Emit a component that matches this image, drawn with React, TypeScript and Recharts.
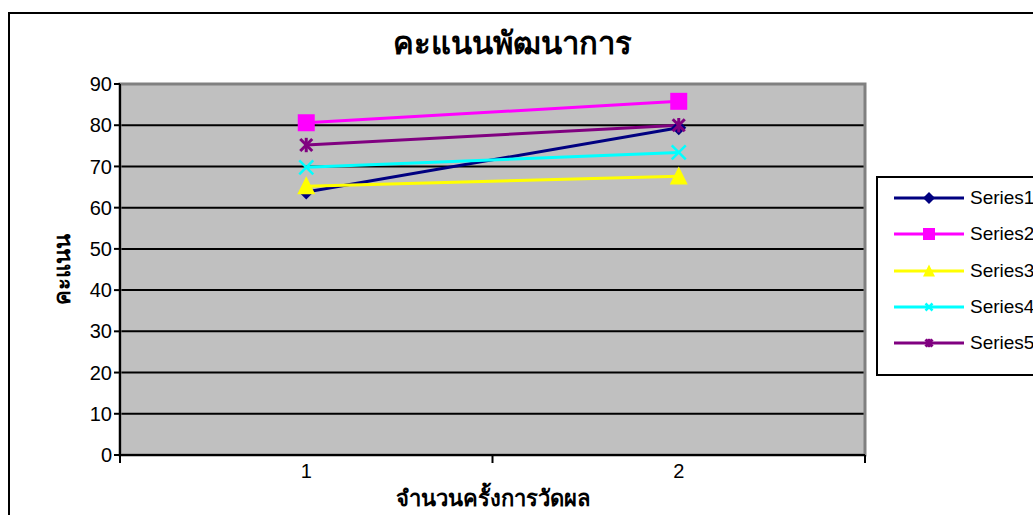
import React from 'react';
import {
  LineChart,
  Line,
  XAxis,
  YAxis,
  CartesianGrid,
  Legend,
  ReferenceArea,
  Label
} from 'recharts';

const categories = [1, 2];
const series1 = [63.8, 79.4];
const series2 = [80.6, 85.8];
const series3 = [65.2, 67.6];
const series4 = [69.8, 73.4];
const series5 = [75.2, 80.0];
const yTicks = [0, 10, 20, 30, 40, 50, 60, 70, 80, 90];

const data = categories.map((c, i) => ({
  x: c,
  s1: series1[i],
  s2: series2[i],
  s3: series3[i],
  s4: series4[i],
  s5: series5[i]
}));

type Shape = 'diamond' | 'square' | 'triangle' | 'cross' | 'star';

const seriesDefs: { key: string; name: string; color: string; shape: Shape }[] = [
  { key: 's1', name: 'Series1', color: '#000080', shape: 'diamond' },
  { key: 's2', name: 'Series2', color: '#FF00FF', shape: 'square' },
  { key: 's3', name: 'Series3', color: '#FFFF00', shape: 'triangle' },
  { key: 's4', name: 'Series4', color: '#00FFFF', shape: 'cross' },
  { key: 's5', name: 'Series5', color: '#800080', shape: 'star' }
];

const thaiFont = 'Noto Sans, DejaVu Sans, sans-serif';
const latinFont = 'Liberation Sans, Arial, sans-serif';

function Marker({ cx, cy, color, shape, s }: { cx: number; cy: number; color: string; shape: Shape; s: number }) {
  if (shape === 'diamond') {
    return <polygon points={`${cx},${cy - s} ${cx + s},${cy} ${cx},${cy + s} ${cx - s},${cy}`} fill={color} />;
  }
  if (shape === 'square') {
    return <rect x={cx - s} y={cy - s} width={s * 2} height={s * 2} fill={color} />;
  }
  if (shape === 'triangle') {
    return <polygon points={`${cx},${cy - s * 1.1} ${cx + s},${cy + s * 0.9} ${cx - s},${cy + s * 0.9}`} fill={color} />;
  }
  if (shape === 'cross') {
    return (
      <g stroke={color} strokeWidth={2.5}>
        <line x1={cx - s} y1={cy - s} x2={cx + s} y2={cy + s} />
        <line x1={cx - s} y1={cy + s} x2={cx + s} y2={cy - s} />
      </g>
    );
  }
  return (
    <g stroke={color} strokeWidth={3}>
      <line x1={cx - s} y1={cy - s} x2={cx + s} y2={cy + s} />
      <line x1={cx - s} y1={cy + s} x2={cx + s} y2={cy - s} />
      <line x1={cx} y1={cy - s * 1.2} x2={cx} y2={cy + s * 1.2} />
    </g>
  );
}

const markerSize: Record<Shape, number> = { diamond: 7.5, square: 8.5, triangle: 9, cross: 7, star: 6 };

function makeDot(color: string, shape: Shape) {
  return (props: any) => {
    const { cx, cy, index } = props;
    if (cx == null || cy == null) return <g key={index} />;
    return (
      <g key={index}>
        <Marker cx={cx} cy={cy} color={color} shape={shape} s={markerSize[shape]} />
      </g>
    );
  };
}

function XTick(props: any) {
  const { x, y, payload } = props;
  const v = payload.value;
  if (Number.isInteger(v)) {
    return (
      <text x={x} y={y + 15} textAnchor="middle" fontSize={20} fill="#000" fontFamily={latinFont}>
        {v}
      </text>
    );
  }
  return <line x1={x} y1={y - 8} x2={x} y2={y} stroke="#000" strokeWidth={2} />;
}

function LegendBox() {
  return (
    <div style={{ border: '2px solid #000', background: '#fff', width: 170, height: 200, boxSizing: 'border-box', paddingTop: 2 }}>
      {seriesDefs.map((d) => (
        <div key={d.key} style={{ display: 'flex', alignItems: 'center', height: 36.3 }}>
          <svg width={74} height={20} style={{ marginLeft: 14 }}>
            <line x1={2} y1={10} x2={72} y2={10} stroke={d.color} strokeWidth={3} />
            <Marker cx={37} cy={10} color={d.color} shape={d.shape} s={d.shape === 'cross' || d.shape === 'star' ? 3.5 : 6} />
          </svg>
          <span style={{ fontFamily: latinFont, fontSize: 19, color: '#000', marginLeft: 4, whiteSpace: 'nowrap' }}>{d.name}</span>
        </div>
      ))}
    </div>
  );
}

export default function App() {
  return (
    <div style={{ position: 'absolute', left: 0, top: 0, width: 1033, height: 515, overflow: 'hidden', background: '#fff' }}>
      <div style={{ position: 'absolute', left: 8, top: 12, width: 1060, height: 540, border: '2px solid #000', boxSizing: 'border-box' }} />
      <div
        style={{
          position: 'absolute',
          left: 0,
          top: 18,
          width: 1025,
          textAlign: 'center',
          fontFamily: thaiFont,
          fontWeight: 'bold',
          fontSize: 31,
          color: '#000'
        }}
      >
        คะแนนพัฒนาการ
      </div>
      <LineChart
        width={1033}
        height={515}
        data={data}
        margin={{ top: 84, right: 168, left: 70, bottom: 30 }}
        style={{ position: 'absolute', left: 0, top: 0 }}
      >
        <CartesianGrid vertical={false} fill="#C0C0C0" stroke="#000" strokeWidth={2} horizontalValues={yTicks} />
        <ReferenceArea x1={0.5} x2={2.5} y1={0} y2={90} fill="none" stroke="#808080" strokeWidth={3} />
        <XAxis
          dataKey="x"
          type="number"
          domain={[0.5, 2.5]}
          ticks={[0.5, 1, 1.5, 2, 2.5]}
          tickLine={false}
          tick={<XTick />}
          axisLine={{ stroke: '#000', strokeWidth: 2 }}
          height={30}
          interval={0}
        >
          <Label
            value="จำนวนครั้งการวัดผล"
            position="bottom"
            offset={5}
            style={{ fontFamily: thaiFont, fontWeight: 'bold', fontSize: 22, fill: '#000' }}
          />
        </XAxis>
        <YAxis
          domain={[0, 90]}
          ticks={yTicks}
          interval={0}
          width={50}
          tickSize={6}
          tickLine={{ stroke: '#000', strokeWidth: 2 }}
          axisLine={{ stroke: '#000', strokeWidth: 2 }}
          tick={{ fill: '#000', fontSize: 20, fontFamily: latinFont }}
        >
          <Label
            value="คะแนน"
            angle={-90}
            position="insideLeft"
            offset={-8}
            style={{ fontFamily: thaiFont, fontWeight: 'bold', fontSize: 22, fill: '#000', textAnchor: 'middle' }}
          />
        </YAxis>
        <Legend
          layout="vertical"
          align="center"
          verticalAlign="middle"
          content={<LegendBox />}
          wrapperStyle={{ left: 876, top: 176, width: 170, height: 200 }}
        />
        {seriesDefs.map((d) => (
          <Line
            key={d.key}
            type="linear"
            dataKey={d.key}
            name={d.name}
            stroke={d.color}
            strokeWidth={3}
            dot={makeDot(d.color, d.shape)}
            activeDot={false}
            isAnimationActive={false}
          />
        ))}
      </LineChart>
    </div>
  );
}
